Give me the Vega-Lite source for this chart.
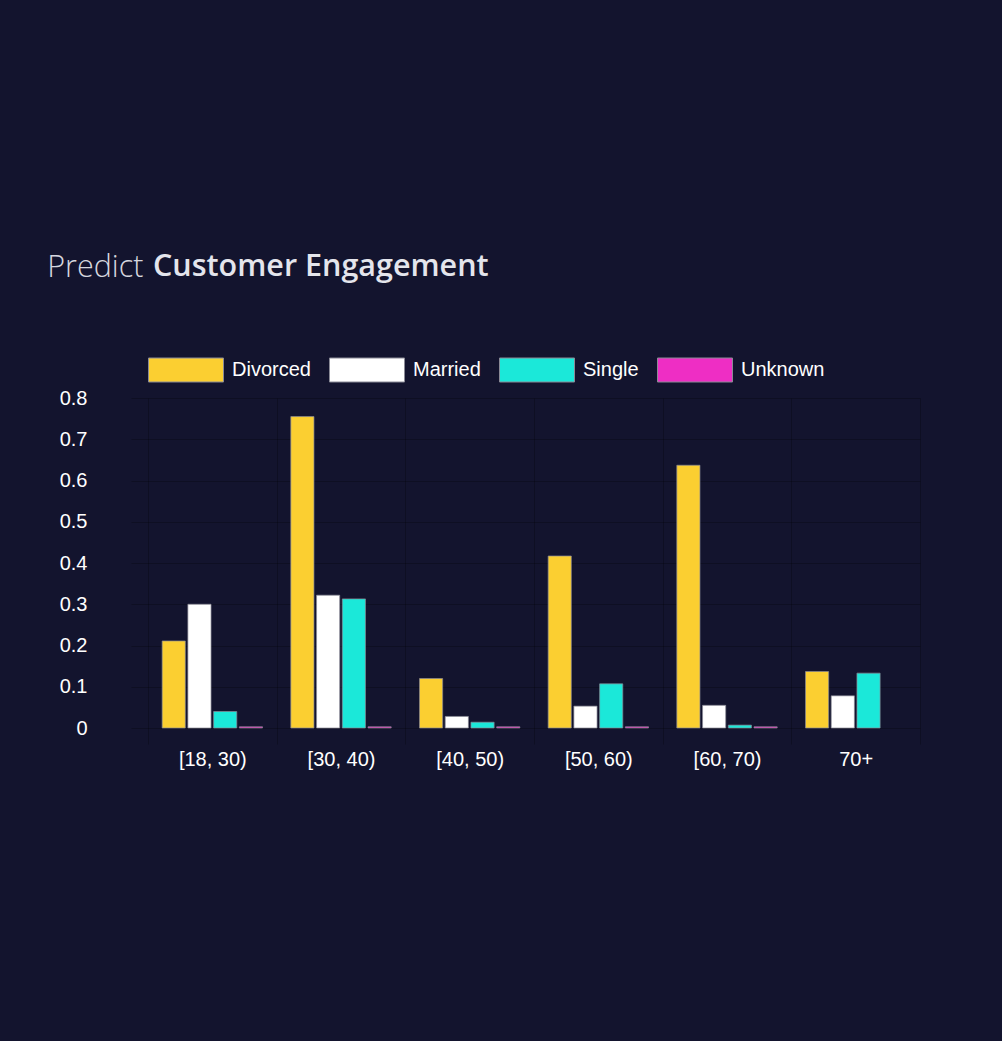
{
  "$schema": "https://vega.github.io/schema/vega-lite/v6.json",
  "background": "#13142e",
  "padding": {"left": 47, "top": 251, "right": 82, "bottom": 274},
  "title": {
    "text": "Predict",
    "anchor": "start",
    "frame": "bounds",
    "font": "Open Sans",
    "fontSize": 30.5,
    "fontWeight": 300,
    "color": "#d6d7df",
    "dx": -12,
    "dy": 36
  },
  "resolve": {"legend": {"color": "independent"}, "scale": {"color": "independent"}},
  "data": {
    "values": [
      {"age": "[18, 30)", "status": "Divorced", "value": 0.211},
      {"age": "[18, 30)", "status": "Married", "value": 0.300},
      {"age": "[18, 30)", "status": "Single", "value": 0.040},
      {"age": "[18, 30)", "status": "Unknown", "value": 0.003},
      {"age": "[30, 40)", "status": "Divorced", "value": 0.755},
      {"age": "[30, 40)", "status": "Married", "value": 0.322},
      {"age": "[30, 40)", "status": "Single", "value": 0.313},
      {"age": "[30, 40)", "status": "Unknown", "value": 0.003},
      {"age": "[40, 50)", "status": "Divorced", "value": 0.120},
      {"age": "[40, 50)", "status": "Married", "value": 0.028},
      {"age": "[40, 50)", "status": "Single", "value": 0.014},
      {"age": "[40, 50)", "status": "Unknown", "value": 0.003},
      {"age": "[50, 60)", "status": "Divorced", "value": 0.417},
      {"age": "[50, 60)", "status": "Married", "value": 0.053},
      {"age": "[50, 60)", "status": "Single", "value": 0.107},
      {"age": "[50, 60)", "status": "Unknown", "value": 0.003},
      {"age": "[60, 70)", "status": "Divorced", "value": 0.637},
      {"age": "[60, 70)", "status": "Married", "value": 0.055},
      {"age": "[60, 70)", "status": "Single", "value": 0.007},
      {"age": "[60, 70)", "status": "Unknown", "value": 0.003},
      {"age": "70+", "status": "Divorced", "value": 0.137},
      {"age": "70+", "status": "Married", "value": 0.078},
      {"age": "70+", "status": "Single", "value": 0.133}
    ]
  },
  "vconcat": [
    {
      "width": 772,
      "height": 330,
      "title": {
        "text": "Customer Engagement",
        "anchor": "start",
        "frame": "group",
        "font": "Open Sans",
        "fontSize": 30.5,
        "fontWeight": 600,
        "color": "#e4e5ec",
        "dx": 5,
        "offset": 50
      },
      "mark": {"type": "bar", "stroke": "#8a8a96", "strokeWidth": 1, "strokeOpacity": 0.7},
      "encoding": {
        "x": {
          "field": "age",
          "type": "nominal",
          "sort": ["[18, 30)", "[30, 40)", "[40, 50)", "[50, 60)", "[60, 70)", "70+"],
          "scale": {"paddingInner": 0, "paddingOuter": 0},
          "axis": {
            "title": null,
            "labelAngle": 0,
            "labelFont": "Liberation Sans",
            "labelFontSize": 20,
            "labelColor": "#ffffff",
            "labelPadding": 5,
            "grid": true,
            "gridColor": "#000000",
            "gridOpacity": 0.22,
            "tickBand": "extent",
            "tickSize": 16,
            "tickColor": "#000000",
            "tickOpacity": 0.22,
            "domain": false
          }
        },
        "xOffset": {
          "field": "status",
          "type": "nominal",
          "sort": ["Divorced", "Married", "Single", "Unknown"],
          "scale": {"domain": ["Divorced", "Married", "Single", "Unknown"], "paddingInner": 0.1, "paddingOuter": 0.55}
        },
        "y": {
          "field": "value",
          "type": "quantitative",
          "scale": {"domain": [0, 0.8], "nice": false},
          "axis": {
            "title": null,
            "values": [0, 0.1, 0.2, 0.3, 0.4, 0.5, 0.6, 0.7, 0.8],
            "format": ".1~f",
            "labelFont": "Liberation Sans",
            "labelFontSize": 20,
            "labelColor": "#ffffff",
            "labelPadding": 44,
            "grid": true,
            "gridColor": "#000000",
            "gridOpacity": 0.22,
            "tickSize": 17,
            "tickColor": "#000000",
            "tickOpacity": 0.22,
            "domain": false
          }
        },
        "color": {
          "field": "status",
          "type": "nominal",
          "sort": ["Divorced", "Married", "Single", "Unknown"],
          "scale": {
            "domain": ["Divorced", "Married", "Single", "Unknown"],
            "range": ["#fbcf31", "#ffffff", "#1be8d9", "#ee2ec4"]
          },
          "legend": {
            "orient": "top",
            "direction": "horizontal",
            "title": null,
            "symbolType": "M-1,-0.32H1V0.32H-1Z",
            "symbolSize": 5625,
            "symbolStrokeColor": "#8a8a96",
            "symbolStrokeWidth": 1,
            "symbolOpacity": 1,
            "labelFont": "Liberation Sans",
            "labelFontSize": 20,
            "labelColor": "#ffffff",
            "labelOffset": 8,
            "columnPadding": 16,
            "offset": 14
          }
        }
      }
    }
  ],
  "config": {
    "view": {"stroke": null}
  }
}
